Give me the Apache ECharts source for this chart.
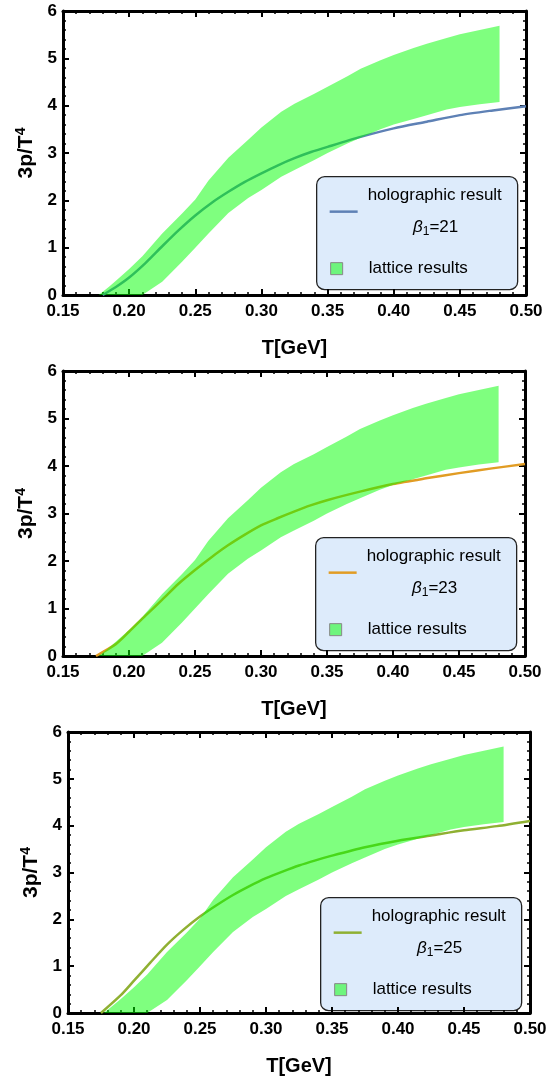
<!DOCTYPE html>
<html>
<head>
<meta charset="utf-8">
<script src="https://cdn.jsdelivr.net/npm/echarts@6/dist/echarts.min.js"></script>
<style>
  html, body { margin: 0; padding: 0; background: #fff; }
  #main { width: 557px; height: 1077px; }
</style>
</head>
<body>
<div id="main"></div>
<script>
  // lattice band (same in all three panels)
  var bandT     = [0.177, 0.185, 0.19, 0.20, 0.21, 0.225, 0.24, 0.25, 0.26, 0.275, 0.29, 0.30, 0.315, 0.325, 0.34, 0.35, 0.365, 0.375, 0.39, 0.40, 0.415, 0.425, 0.44, 0.45, 0.465, 0.48];
  var bandUpper = [0.0, 0.18, 0.3, 0.55, 0.82, 1.3, 1.72, 2.02, 2.42, 2.9, 3.28, 3.54, 3.87, 4.04, 4.25, 4.4, 4.62, 4.78, 4.96, 5.07, 5.22, 5.31, 5.43, 5.51, 5.6, 5.69];
  var bandLower = [0.0, 0.0, 0.0, 0.0, 0.0, 0.28, 0.7, 1.0, 1.3, 1.73, 2.05, 2.22, 2.5, 2.64, 2.85, 3.0, 3.2, 3.32, 3.5, 3.6, 3.72, 3.8, 3.92, 3.97, 4.03, 4.08];

  // holographic curves
  var curveT = [0.19, 0.20, 0.2125, 0.225, 0.2375, 0.25, 0.2625, 0.275, 0.2875, 0.30, 0.3125, 0.325, 0.3375, 0.35, 0.375, 0.40, 0.425, 0.45, 0.475, 0.50];
  var start21 = 0.180, p21 = [0.17, 0.37, 0.68, 1.03, 1.37, 1.68, 1.95, 2.18, 2.39, 2.57, 2.74, 2.89, 3.02, 3.13, 3.34, 3.52, 3.66, 3.80, 3.90, 3.99];
  var start23 = 0.175, p23 = [0.25, 0.51, 0.85, 1.18, 1.52, 1.81, 2.08, 2.33, 2.55, 2.75, 2.90, 3.04, 3.17, 3.28, 3.46, 3.62, 3.74, 3.85, 3.95, 4.04];
  var start25 = 0.175, p25 = [0.38, 0.69, 1.08, 1.46, 1.78, 2.06, 2.30, 2.52, 2.71, 2.88, 3.02, 3.15, 3.26, 3.36, 3.54, 3.68, 3.79, 3.90, 3.99, 4.10];

  var panels = [
    { beta: '21', color: '#5e81b5', start: start21, vals: p21, left: 63, right: 526, top: 11, bottom: 295 },
    { beta: '23', color: '#e19c24', start: start23, vals: p23, left: 63, right: 525, top: 371, bottom: 656 },
    { beta: '25', color: '#8fb032', start: start25, vals: p25, left: 68, right: 530, top: 732, bottom: 1016 }
  ];

  var font = 'Arial, "Liberation Sans", sans-serif';
  var W = 557, H = 1077;
  var chart = echarts.init(document.getElementById('main'));

  var grids = [], xAxes = [], yAxes = [], series = [], graphics = [];

  function tickStyle(show) {
    return {
      axisLine: { show: true, onZero: false, lineStyle: { color: '#000', width: 3 } },
      axisTick: { show: true, inside: true, length: 6, lineStyle: { color: '#000', width: 2 } },
      minorTick: { show: true, splitNumber: 5, length: 3, lineStyle: { color: '#000', width: 1.5 } },
      splitLine: { show: false },
      axisLabel: { show: show }
    };
  }

  panels.forEach(function (p, i) {
    grids.push({ left: p.left, right: W - p.right, top: p.top, bottom: H - p.bottom });

    var xb = tickStyle(true);
    xb.type = 'value'; xb.gridIndex = i; xb.position = 'bottom';
    xb.min = 0.15; xb.max = 0.50; xb.interval = 0.05;
    xb.axisLabel = { show: true, margin: 8, fontSize: 17, fontWeight: 'bold', color: '#000', fontFamily: font,
      formatter: function (v) { return v.toFixed(2); } };
    xb.name = 'T[GeV]'; xb.nameLocation = 'middle'; xb.nameGap = 43;
    xb.nameTextStyle = { fontSize: 20, fontWeight: 'bold', color: '#000', fontFamily: font };
    xAxes.push(xb);

    var xt = tickStyle(false);
    xt.type = 'value'; xt.gridIndex = i; xt.position = 'top';
    xt.min = 0.15; xt.max = 0.50; xt.interval = 0.05;
    xAxes.push(xt);

    var yl = tickStyle(true);
    yl.type = 'value'; yl.gridIndex = i; yl.position = 'left';
    yl.min = 0; yl.max = 6; yl.interval = 1;
    yl.axisLabel = { show: true, margin: 6, fontSize: 17, fontWeight: 'bold', color: '#000', fontFamily: font };
    yl.name = '{a|3p/T}{b|4}'; yl.nameLocation = 'middle'; yl.nameGap = 25;
    yl.nameTextStyle = { rich: {
      a: { fontSize: 21, fontWeight: 'bold', color: '#000', fontFamily: font },
      b: { fontSize: 14, fontWeight: 'bold', color: '#000', fontFamily: font, padding: [0, 0, 10, 0] }
    } };
    yAxes.push(yl);

    var yr = tickStyle(false);
    yr.type = 'value'; yr.gridIndex = i; yr.position = 'right';
    yr.min = 0; yr.max = 6; yr.interval = 1;
    yAxes.push(yr);

    var pts = [[p.start, 0]];
    curveT.forEach(function (t, k) { pts.push([t, p.vals[k]]); });
    series.push({
      type: 'line', name: 'holographic result', xAxisIndex: 2 * i, yAxisIndex: 2 * i,
      data: pts, smooth: 0.25, showSymbol: false, z: 2,
      lineStyle: { color: p.color, width: 2.5 }
    });

    series.push({
      type: 'custom', name: 'lattice results', xAxisIndex: 2 * i, yAxisIndex: 2 * i, z: 3,
      data: [[0.3, 3]],
      renderItem: function (params, api) {
        var poly = [];
        for (var k = 0; k < bandT.length; k++) poly.push(api.coord([bandT[k], bandUpper[k]]));
        for (var k2 = bandT.length - 1; k2 >= 0; k2--) poly.push(api.coord([bandT[k2], bandLower[k2]]));
        return { type: 'polygon', shape: { points: poly }, style: { fill: 'rgba(0,255,0,0.5)' } };
      }
    });

    // legend box
    var bx = p.right - 210, by = p.bottom - 119;
    graphics.push({
      type: 'group', left: bx, top: by, z: 100,
      children: [
        { type: 'rect', shape: { x: 0, y: 0, width: 201, height: 113, r: 8 },
          style: { fill: '#ddebfb', stroke: '#222', lineWidth: 1.3 } },
        { type: 'line', shape: { x1: 13, y1: 35, x2: 41, y2: 35 },
          style: { stroke: p.color, lineWidth: 2.5 } },
        { type: 'text', x: 51, y: 19,
          style: { text: 'holographic result', fill: '#000', fontSize: 17, fontFamily: font, verticalAlign: 'middle', align: 'left' } },
        { type: 'text', x: 119, y: 51,
          style: { text: '{i|β}{s|1}{n|=' + p.beta + '}', align: 'center', verticalAlign: 'middle',
            rich: {
              i: { fontSize: 17, fontStyle: 'italic', fontFamily: font, fill: '#000' },
              s: { fontSize: 12, fontFamily: font, fill: '#000', padding: [8, 0, 0, 0] },
              n: { fontSize: 17, fontFamily: font, fill: '#000' }
            } } },
        { type: 'rect', shape: { x: 14, y: 86, width: 12, height: 12 },
          style: { fill: 'rgba(0,255,0,0.5)', stroke: '#888', lineWidth: 1 } },
        { type: 'text', x: 52, y: 92,
          style: { text: 'lattice results', fill: '#000', fontSize: 17, fontFamily: font, verticalAlign: 'middle', align: 'left' } }
      ]
    });
  });

  chart.setOption({
    animation: false,
    backgroundColor: '#fff',
    grid: grids,
    xAxis: xAxes,
    yAxis: yAxes,
    series: series,
    graphic: graphics
  });
</script>
</body>
</html>
